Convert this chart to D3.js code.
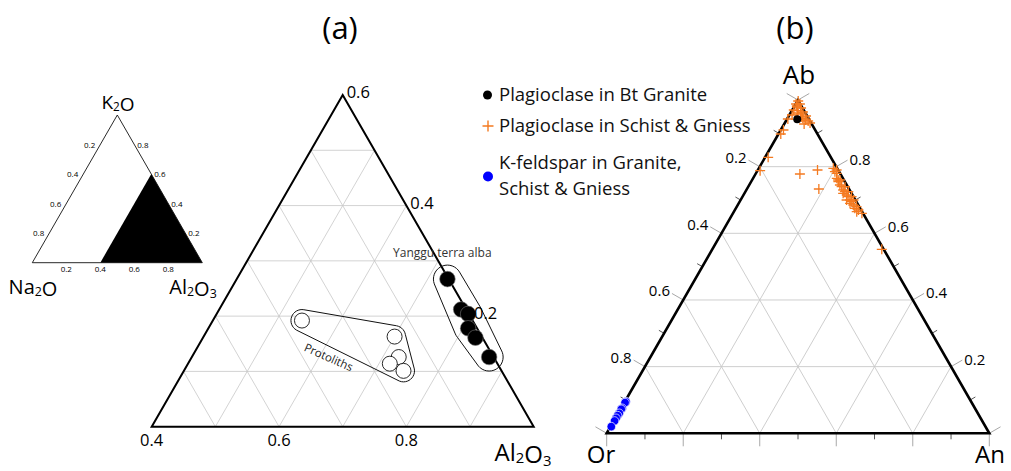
<!DOCTYPE html>
<html>
<head>
<meta charset="utf-8">
<script src="https://cdn.jsdelivr.net/npm/d3@7"></script>
<style>
  body { margin: 0; background: #fff; }
  svg { display: block; font-family: "Open Sans", "Noto Sans", sans-serif; }
</style>
</head>
<body>
<svg id="chart" width="1011" height="471"></svg>
<script>
// ---------------- data ----------------
// (a) K2O – Na2O – Al2O3 (molar fractions)
const graniteK2O   = [0.267, 0.212, 0.204, 0.178, 0.161, 0.126];
const graniteNa2O  = [0.002, 0.008, 0.001, 0.014, 0.011, 0.007];
const graniteAl2O3 = [0.731, 0.780, 0.795, 0.808, 0.828, 0.867];

const protoK2O   = [0.192, 0.163, 0.126, 0.114, 0.101];
const protoNa2O  = [0.268, 0.137, 0.149, 0.169, 0.154];
const protoAl2O3 = [0.540, 0.700, 0.725, 0.717, 0.745];

const aBottomTicks = [0.4, 0.6, 0.8];          // Al2O3
const aRightTicks  = [0.6, 0.4, 0.2];          // K2O
const insetLeftTicks   = [0.2, 0.4, 0.6, 0.8]; // Na2O
const insetRightTicks  = [0.8, 0.6, 0.4, 0.2]; // K2O
const insetBottomTicks = [0.2, 0.4, 0.6, 0.8]; // Al2O3

// (b) Ab – Or – An feldspar compositions
const btGraniteAb = [0.942];
const btGraniteAn = [0.027];
const btGraniteOr = [0.031];

const schistAb = [0.997, 0.988, 0.988, 0.979, 0.976, 0.970, 0.964, 0.961, 0.955, 0.952,
                  0.949, 0.943, 0.937, 0.928, 0.931, 0.910, 0.898, 0.828, 0.788, 0.778,
                  0.790, 0.733, 0.552, 0.785, 0.765, 0.755, 0.745, 0.740, 0.730, 0.725,
                  0.715, 0.710, 0.700, 0.695, 0.685, 0.675, 0.670, 0.660, 0.680, 0.740,
                  0.760, 0.725, 0.710, 0.700, 0.690, 0.700, 0.720, 0.665, 0.780, 0.795,
                  0.760, 0.790, 0.982, 0.968, 0.958, 0.945, 0.940];
const schistAn = [0.002, 0.001, 0.011, 0.008, 0.020, 0.004, 0.031, 0.019, 0.007, 0.045,
                  0.034, 0.002, 0.058, 0.052, 0.066, 0.007, 0.006, 0.008, 0.007, 0.116,
                  0.156, 0.188, 0.443, 0.204, 0.219, 0.228, 0.237, 0.244, 0.253, 0.260,
                  0.270, 0.276, 0.286, 0.293, 0.302, 0.311, 0.323, 0.337, 0.313, 0.253,
                  0.230, 0.269, 0.285, 0.295, 0.291, 0.277, 0.258, 0.321, 0.211, 0.195,
                  0.225, 0.206, 0.006, 0.015, 0.028, 0.040, 0.050];
const schistOr = [0.001, 0.011, 0.001, 0.013, 0.004, 0.026, 0.005, 0.020, 0.038, 0.003,
                  0.017, 0.055, 0.005, 0.020, 0.003, 0.083, 0.096, 0.164, 0.205, 0.106,
                  0.054, 0.079, 0.005, 0.011, 0.016, 0.017, 0.018, 0.016, 0.017, 0.015,
                  0.015, 0.014, 0.014, 0.012, 0.013, 0.014, 0.007, 0.003, 0.007, 0.007,
                  0.010, 0.006, 0.005, 0.005, 0.019, 0.023, 0.022, 0.014, 0.009, 0.010,
                  0.015, 0.004, 0.012, 0.017, 0.014, 0.015, 0.010];

const kfsAb = [0.095, 0.092, 0.075, 0.072, 0.060, 0.053, 0.045, 0.037, 0.020];
const kfsAn = [0.003, 0.002, 0.003, 0.002, 0.003, 0.002, 0.002, 0.002, 0.002];
const kfsOr = [0.902, 0.906, 0.922, 0.926, 0.937, 0.945, 0.953, 0.961, 0.978];

const bGridValues = [0.2, 0.4, 0.6, 0.8];
const bTickValues = [0, 0.1, 0.2, 0.3, 0.4, 0.5, 0.6, 0.7, 0.8, 0.9, 1];
const bLeftLabels  = [0.2, 0.4, 0.6, 0.8];  // Or
const bRightLabels = [0.8, 0.6, 0.4, 0.2];  // Ab

const legendLabels = [["Plagioclase in Bt Granite"],
                      ["Plagioclase in Schist & Gniess"],
                      ["K-feldspar in Granite,", "Schist & Gniess"]];

// ---------------- setup ----------------
const svg = d3.select("#chart");
const fmt = d3.format(".1f");
const gridColor = "#c8c8c8";
const orange = "#f47a20";
const blue = "#0000ff";

// chemical formula with small subscript digits
function formula(sel, txt, size) {
  const parts = txt.match(/(\d+|\D+)/g);
  parts.forEach(p => {
    const isNum = /\d/.test(p);
    sel.append("tspan")
      .attr("font-size", isNum ? size * 0.62 : size)
      .attr("dy", isNum ? size * 0.1 : 0)
      .text(p);
    if (isNum) sel.append("tspan").attr("font-size", size).attr("dy", -size * 0.1).text("");
  });
}

// ================= panel (a) =================
const ga = svg.append("g");
const aX = d3.scaleLinear().domain([0.4, 1]).range([151.7, 533.7]);
const aY = d3.scaleLinear().domain([0, 0.6]).range([426.7, 95]);
// position from K2O and Al2O3 (Na2O is the remainder)
const projA = (k, al) => [aX(al) + (aX(0.4 + k) - aX(0.4)) / 2, aY(k)];

const aGrid = d3.range(1, 6).map(i => i / 10);
const line = d3.line();
aGrid.forEach(v => {
  // constant K2O
  ga.append("path").attr("d", line([projA(v, 0.4), projA(v, 1 - v)]))
    .attr("stroke", gridColor).attr("stroke-width", 0.8).attr("fill", "none");
  // constant Al2O3
  ga.append("path").attr("d", line([projA(0, 0.4 + v), projA(0.6 - v, 0.4 + v)]))
    .attr("stroke", gridColor).attr("stroke-width", 0.8).attr("fill", "none");
  // constant Na2O
  ga.append("path").attr("d", line([projA(0, 1 - v), projA(0.6 - v, 0.4)]))
    .attr("stroke", gridColor).attr("stroke-width", 0.8).attr("fill", "none");
});

ga.append("path")
  .attr("d", line([projA(0.6, 0.4), projA(0, 0.4), projA(0, 1), projA(0.6, 0.4)]) + "Z")
  .attr("fill", "none").attr("stroke", "#000").attr("stroke-width", 2)
  .attr("stroke-linejoin", "miter");

// rounded envelope around a group of points
function envelope(pts, pad) {
  const ring = [];
  pts.forEach(p => {
    for (let i = 0; i < 36; i++) {
      const t = i / 36 * 2 * Math.PI;
      ring.push([p[0] + pad * Math.cos(t), p[1] + pad * Math.sin(t)]);
    }
  });
  return d3.polygonHull(ring);
}
const closed = d3.line().curve(d3.curveLinearClosed);

const granitePts = graniteK2O.map((k, i) => projA(k, graniteAl2O3[i]));
const protoPts = protoK2O.map((k, i) => projA(k, protoAl2O3[i]));

ga.append("path").attr("d", closed(envelope(granitePts, 14)))
  .attr("fill", "none").attr("stroke", "#111").attr("stroke-width", 1);
ga.append("path").attr("d", closed(envelope(protoPts, 11)))
  .attr("fill", "none").attr("stroke", "#111").attr("stroke-width", 1);

ga.selectAll("circle.proto").data(protoPts).join("circle").attr("class", "proto")
  .attr("cx", d => d[0]).attr("cy", d => d[1]).attr("r", 7.5)
  .attr("fill", "#fff").attr("stroke", "#111").attr("stroke-width", 0.9);
ga.selectAll("circle.granite").data(granitePts).join("circle").attr("class", "granite")
  .attr("cx", d => d[0]).attr("cy", d => d[1]).attr("r", 7.8)
  .attr("fill", "#000").attr("stroke", "#777").attr("stroke-width", 0.6);

// group labels
ga.append("text").attr("x", 393).attr("y", 257).attr("font-size", 12).attr("fill", "#333")
  .text("Yanggu terra alba");
ga.append("text").attr("transform", "translate(327,361) rotate(24)")
  .attr("text-anchor", "middle").attr("font-size", 11.5).attr("fill", "#222")
  .text("Protoliths");

// axis labels
ga.selectAll("text.bt").data(aBottomTicks).join("text").attr("class", "bt")
  .attr("x", d => projA(0, d)[0]).attr("y", 446).attr("text-anchor", "middle")
  .attr("font-size", 16.5).text(fmt);
ga.selectAll("text.rt").data(aRightTicks).join("text").attr("class", "rt")
  .attr("x", d => projA(d, 1 - d)[0] + 4).attr("y", d => projA(d, 1 - d)[1] + 3)
  .attr("font-size", 16.5).text(fmt);
formula(ga.append("text").attr("x", 523).attr("y", 461).attr("text-anchor", "middle"), "Al2O3", 24);
ga.append("text").attr("x", 340).attr("y", 39).attr("text-anchor", "middle")
  .attr("font-size", 31).text("(a)");

// ================= inset =================
const gi = svg.append("g");
const iX = d3.scaleLinear().domain([0, 1]).range([32.3, 202.3]);
const iY = d3.scaleLinear().domain([0, 1]).range([262.7, 115]);
const projI = (k, al) => [iX(al + k / 2), iY(k)];

gi.append("path")
  .attr("d", line([projI(0, 0.4), projI(0.6, 0.4), projI(0, 1)]) + "Z")
  .attr("fill", "#000");
gi.append("path")
  .attr("d", line([projI(1, 0), projI(0, 0), projI(0, 1)]) + "Z")
  .attr("fill", "none").attr("stroke", "#111").attr("stroke-width", 0.9);

gi.selectAll("text.il").data(insetLeftTicks).join("text").attr("class", "il")
  .attr("x", d => projI(1 - d, 0)[0] - 5).attr("y", d => projI(1 - d, 0)[1] + 3)
  .attr("text-anchor", "end").attr("font-size", 8).text(fmt);
gi.selectAll("text.ir").data(insetRightTicks).join("text").attr("class", "ir")
  .attr("x", d => projI(d, 1 - d)[0] + 3).attr("y", d => projI(d, 1 - d)[1] + 3)
  .attr("font-size", 8).text(fmt);
gi.selectAll("text.ib").data(insetBottomTicks).join("text").attr("class", "ib")
  .attr("x", d => projI(0, d)[0]).attr("y", 272).attr("text-anchor", "middle")
  .attr("font-size", 8).text(fmt);

formula(gi.append("text").attr("x", 118).attr("y", 109).attr("text-anchor", "middle"), "K2O", 19);
formula(gi.append("text").attr("x", 33).attr("y", 294).attr("text-anchor", "middle"), "Na2O", 20);
formula(gi.append("text").attr("x", 193).attr("y", 294).attr("text-anchor", "middle"), "Al2O3", 20);

// ================= panel (b) =================
const gb = svg.append("g");
const bX = d3.scaleLinear().domain([0, 1]).range([606.7, 989.3]);
const bY = d3.scaleLinear().domain([0, 1]).range([433.3, 100]);
// position from Ab and An (Or is the remainder)
const projB = (ab, an) => [bX(an + ab / 2), bY(ab)];

bGridValues.forEach(v => {
  gb.append("path").attr("d", line([projB(v, 0), projB(v, 1 - v)]))
    .attr("stroke", gridColor).attr("stroke-width", 0.9).attr("fill", "none");
  gb.append("path").attr("d", line([projB(0, v), projB(1 - v, v)]))
    .attr("stroke", gridColor).attr("stroke-width", 0.9).attr("fill", "none");
  gb.append("path").attr("d", line([projB(0, 1 - v), projB(1 - v, 0)]))
    .attr("stroke", gridColor).attr("stroke-width", 0.9).attr("fill", "none");
});

// ticks: major (gray, long) at even tenths, minor (dark, short) at odd tenths
const isMajor = t => Math.round(t * 10) % 2 === 0;
function ticks(edgePoint, dir) {
  bTickValues.forEach(t => {
    const p = edgePoint(t);
    const len = isMajor(t) ? 13 : 6;
    gb.append("path")
      .attr("d", line([p, [p[0] + dir[0] * len, p[1] + dir[1] * len]]))
      .attr("stroke", isMajor(t) ? "#a8a8a8" : "#444")
      .attr("stroke-width", isMajor(t) ? 1 : 0.9);
  });
}
const c30 = Math.cos(Math.PI / 6), s30 = 0.5;
ticks(t => projB(1 - t, 0), [-c30, -s30]);   // Or along the left edge
ticks(t => projB(t, 1 - t), [c30, -s30]);    // Ab along the right edge
ticks(t => projB(0, t), [0, 1]);             // An along the base

gb.append("path")
  .attr("d", line([projB(1, 0), projB(0, 0), projB(0, 1)]) + "Z")
  .attr("fill", "none").attr("stroke", "#000").attr("stroke-width", 2.6)
  .attr("stroke-linejoin", "miter");

gb.selectAll("text.bl").data(bLeftLabels).join("text").attr("class", "bl")
  .attr("x", d => projB(1 - d, 0)[0] - c30 * 13 - 2)
  .attr("y", d => projB(1 - d, 0)[1] - s30 * 13 + 3)
  .attr("text-anchor", "end").attr("font-size", 15).text(fmt);
gb.selectAll("text.br").data(bRightLabels).join("text").attr("class", "br")
  .attr("x", d => projB(d, 1 - d)[0] + c30 * 13 + 2)
  .attr("y", d => projB(d, 1 - d)[1] - s30 * 13 + 5)
  .attr("font-size", 15).text(fmt);

gb.append("text").attr("x", 799).attr("y", 84).attr("text-anchor", "middle").attr("font-size", 26).text("Ab");
gb.append("text").attr("x", 601).attr("y", 463).attr("text-anchor", "middle").attr("font-size", 24).text("Or");
gb.append("text").attr("x", 990).attr("y", 463).attr("text-anchor", "middle").attr("font-size", 24).text("An");
gb.append("text").attr("x", 795).attr("y", 39).attr("text-anchor", "middle").attr("font-size", 31).text("(b)");

// K-feldspar
const kfsPts = kfsAb.map((ab, i) => projB(ab, kfsAn[i]));
gb.selectAll("circle.kfs").data(kfsPts).join("circle").attr("class", "kfs")
  .attr("cx", d => d[0]).attr("cy", d => d[1]).attr("r", 4.3)
  .attr("fill", blue).attr("stroke", "#fff").attr("stroke-width", 0.7);

// plagioclase in schist & gneiss
const cross = (x, y, r) => `M${x - r},${y}H${x + r}M${x},${y - r}V${y + r}`;
const schistPts = schistAb.map((ab, i) => projB(ab, schistAn[i]));
gb.selectAll("path.sch").data(schistPts).join("path").attr("class", "sch")
  .attr("d", d => cross(d[0], d[1], 5))
  .attr("stroke", orange).attr("stroke-width", 1.3).attr("fill", "none");

// plagioclase in Bt granite
const btPts = btGraniteAb.map((ab, i) => projB(ab, btGraniteAn[i]));
gb.selectAll("circle.bt").data(btPts).join("circle").attr("class", "bt")
  .attr("cx", d => d[0]).attr("cy", d => d[1]).attr("r", 4)
  .attr("fill", "#000");

// ================= legend =================
const gl = svg.append("g");
const legY = [95, 126, 163];
gl.append("circle").attr("cx", 487.5).attr("cy", legY[0]).attr("r", 4.5).attr("fill", "#000");
gl.append("path").attr("d", cross(488, legY[1], 5.5)).attr("stroke", orange).attr("stroke-width", 1.4);
gl.append("circle").attr("cx", 488).attr("cy", 176.5).attr("r", 5).attr("fill", blue);
legendLabels.forEach((lines, i) => {
  lines.forEach((txt, j) => {
    gl.append("text").attr("x", 499).attr("y", legY[i] + 6 + j * 26)
      .attr("font-size", 18.5).attr("fill", "#111").text(txt);
  });
});
</script>
</body>
</html>
